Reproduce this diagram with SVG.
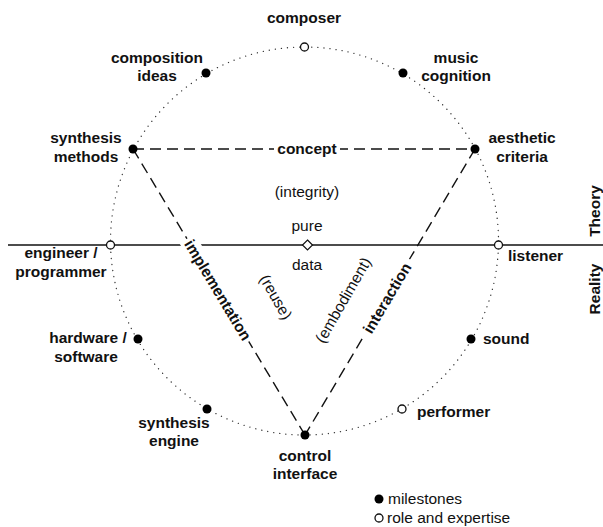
<svg xmlns="http://www.w3.org/2000/svg" width="603" height="527" viewBox="0 0 603 527">
<style>
  text { font-family: "Liberation Sans", Arial, sans-serif; font-size: 15.5px; fill: #111; }
  .b { font-weight: bold; }
  .c { text-anchor: middle; }
  .mid { dominant-baseline: central; }
  .ring { fill: none; stroke: #333; stroke-width: 1.3; stroke-dasharray: 0.1 6; stroke-linecap: round; }
  .dash { fill: none; stroke: #111; stroke-width: 1.4; stroke-dasharray: 11 6; }
  .axis { stroke: #111; stroke-width: 1.4; }
  .ms { fill: #000; }
  .role { fill: #fff; stroke: #111; stroke-width: 1.3; }
  .bg { fill: #fff; }
</style>
<rect width="603" height="527" fill="#fff"/>
<g id="connectors">
  <circle class="ring" cx="304.5" cy="241" r="194"/>
  <line class="axis" x1="8" y1="245" x2="603" y2="245"/>
  <line class="dash" x1="133" y1="149" x2="475" y2="149"/>
  <line class="dash" x1="133" y1="149" x2="305" y2="435"/>
  <line class="dash" x1="475" y1="149" x2="305" y2="435"/>
</g>
<g id="edge-labels">
  <rect class="bg" x="274" y="139" width="66" height="20"/>
  <text class="b c mid" x="307" y="148">concept</text>
  <g transform="translate(218 290) rotate(59)">
    <rect class="bg" x="-60" y="-9" width="120" height="18"/>
    <text class="b c mid" x="0" y="0">implementation</text>
  </g>
  <g transform="translate(387 298) rotate(-59.3)">
    <rect class="bg" x="-45" y="-9" width="90" height="18"/>
    <text class="b c mid" x="0" y="0">interaction</text>
  </g>
  <text class="c mid" transform="translate(276 297) rotate(60)">(reuse)</text>
  <text class="c mid" transform="translate(343 300) rotate(-60)">(embodiment)</text>
  <text class="c" x="307" y="197">(integrity)</text>
</g>
<g id="composer">
  <circle class="role" cx="304.5" cy="47" r="4"/>
  <text class="b c" x="304" y="23">composer</text>
</g>
<g id="composition-ideas">
  <circle class="ms" cx="206" cy="73" r="4.5"/>
  <text class="b c" x="157" y="63">composition</text>
  <text class="b c" x="157" y="81">ideas</text>
</g>
<g id="music-cognition">
  <circle class="ms" cx="403" cy="73" r="4.5"/>
  <text class="b c" x="456" y="63">music</text>
  <text class="b c" x="456" y="81">cognition</text>
</g>
<g id="synthesis-methods">
  <circle class="ms" cx="133" cy="149" r="4.5"/>
  <text class="b c" x="86" y="143">synthesis</text>
  <text class="b c" x="86" y="162">methods</text>
</g>
<g id="aesthetic-criteria">
  <circle class="ms" cx="475" cy="149" r="4.5"/>
  <text class="b c" x="522" y="143">aesthetic</text>
  <text class="b c" x="522" y="162">criteria</text>
</g>
<g id="engineer">
  <circle class="role" cx="110.5" cy="245" r="4"/>
  <text class="b c" x="61" y="258">engineer /</text>
  <text class="b c" x="61" y="277">programmer</text>
</g>
<g id="listener">
  <circle class="role" cx="498.5" cy="245" r="4"/>
  <text class="b" x="508" y="261">listener</text>
</g>
<g id="pure-data">
  <polygon points="307.5,240 312.5,245 307.5,250 302.5,245" fill="#fff" stroke="#111" stroke-width="1.2"/>
  <text class="c" x="307" y="231">pure</text>
  <text class="c" x="307" y="270">data</text>
</g>
<g id="hardware-software">
  <circle class="ms" cx="138" cy="339" r="4.5"/>
  <text class="b c" x="88" y="343">hardware /</text>
  <text class="b c" x="86" y="362">software</text>
</g>
<g id="sound">
  <circle class="ms" cx="471" cy="339" r="4.5"/>
  <text class="b" x="483" y="344">sound</text>
</g>
<g id="synthesis-engine">
  <circle class="ms" cx="207" cy="409" r="4.5"/>
  <text class="b c" x="174" y="428">synthesis</text>
  <text class="b c" x="174" y="446">engine</text>
</g>
<g id="performer">
  <circle class="role" cx="402" cy="409" r="4"/>
  <text class="b" x="417" y="417">performer</text>
</g>
<g id="control-interface">
  <circle class="ms" cx="305" cy="435" r="4.5"/>
  <text class="b c" x="305" y="461">control</text>
  <text class="b c" x="305" y="479">interface</text>
</g>
<g id="theory-reality">
  <text class="b c" transform="translate(600 211) rotate(-90)">Theory</text>
  <text class="b c" transform="translate(600 289) rotate(-90)">Reality</text>
</g>
<g id="legend">
  <circle class="ms" cx="379" cy="499" r="4.5"/>
  <text x="388" y="504">milestones</text>
  <circle class="role" cx="379" cy="518" r="4"/>
  <text x="387" y="523">role and expertise</text>
</g>
</svg>
